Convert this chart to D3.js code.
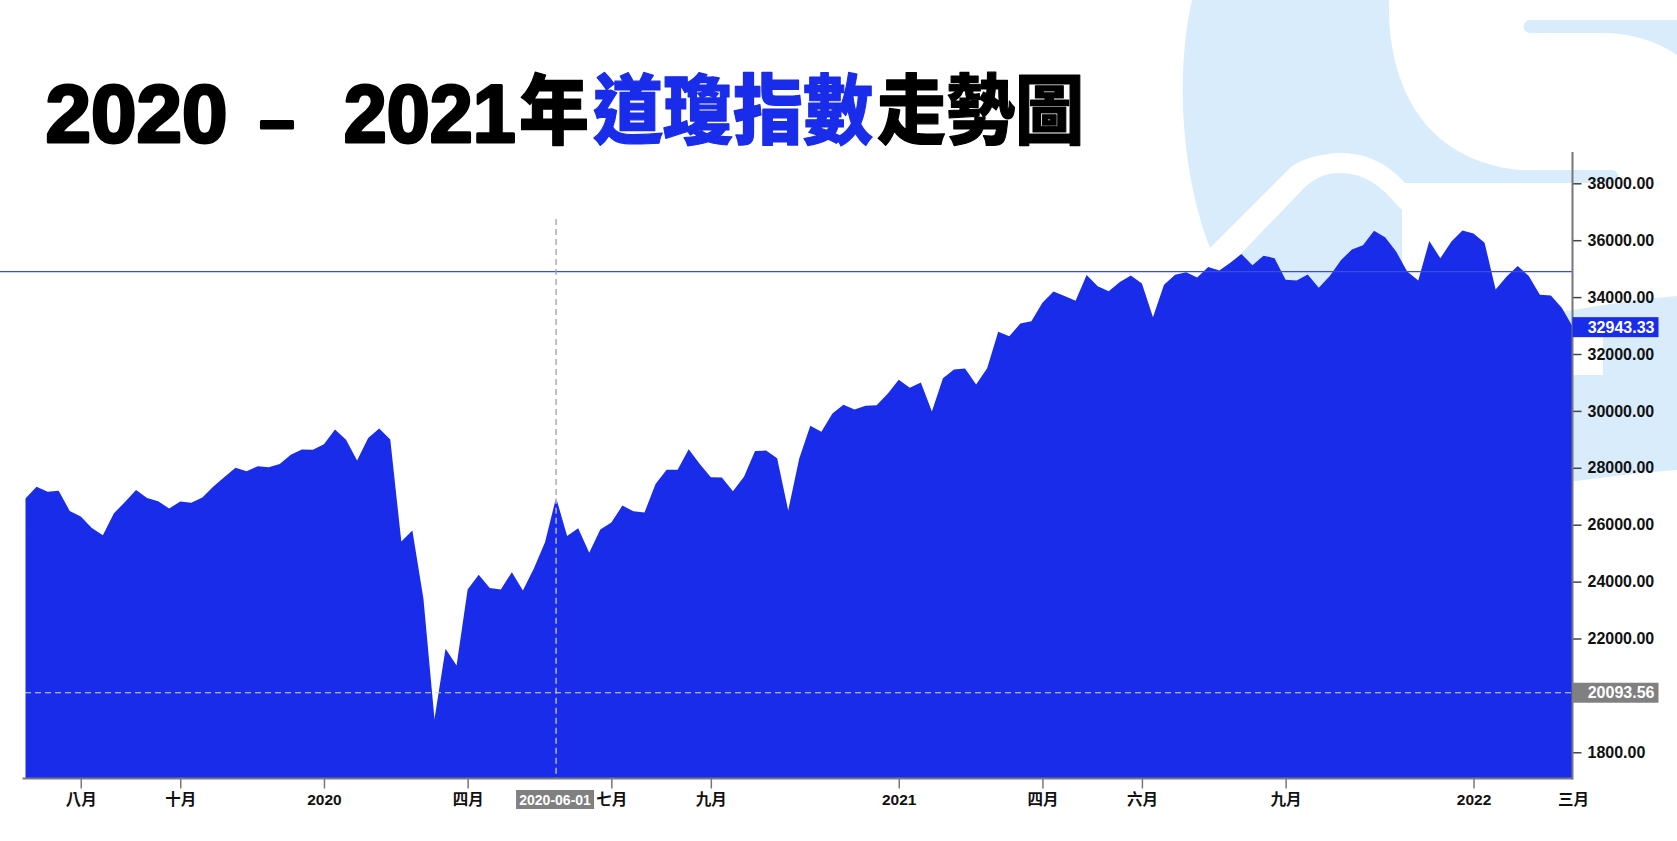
<!DOCTYPE html>
<html><head><meta charset="utf-8">
<script src="https://cdn.jsdelivr.net/npm/d3@7"></script>
<style>html,body{margin:0;padding:0;background:#fff;}svg{display:block;}</style>
</head><body>
<svg id="chart" width="1677" height="841"></svg>
<script>
// ---------- DATA ----------
const weekStarts = [
"2019-07-01","2019-07-08","2019-07-15","2019-07-22","2019-07-29","2019-08-05","2019-08-12","2019-08-19","2019-08-26",
"2019-09-02","2019-09-09","2019-09-16","2019-09-23","2019-09-30","2019-10-07","2019-10-14","2019-10-21","2019-10-28",
"2019-11-04","2019-11-11","2019-11-18","2019-11-25","2019-12-02","2019-12-09","2019-12-16","2019-12-23","2019-12-30",
"2020-01-06","2020-01-13","2020-01-20","2020-01-27","2020-02-03","2020-02-10","2020-02-17","2020-02-24",
"2020-03-02","2020-03-09","2020-03-16","2020-03-23","2020-03-30","2020-04-06","2020-04-13","2020-04-20","2020-04-27",
"2020-05-04","2020-05-11","2020-05-18","2020-05-25","2020-06-01","2020-06-08","2020-06-15","2020-06-22","2020-06-29",
"2020-07-06","2020-07-13","2020-07-20","2020-07-27","2020-08-03","2020-08-10","2020-08-17","2020-08-24","2020-08-31",
"2020-09-07","2020-09-14","2020-09-21","2020-09-28","2020-10-05","2020-10-12","2020-10-19","2020-10-26",
"2020-11-02","2020-11-09","2020-11-16","2020-11-23","2020-11-30","2020-12-07","2020-12-14","2020-12-21","2020-12-28",
"2021-01-04","2021-01-11","2021-01-18","2021-01-25","2021-02-01","2021-02-08","2021-02-15","2021-02-22",
"2021-03-01","2021-03-08","2021-03-15","2021-03-22","2021-03-29","2021-04-05","2021-04-12","2021-04-19","2021-04-26",
"2021-05-03","2021-05-10","2021-05-17","2021-05-24","2021-05-31","2021-06-07","2021-06-14","2021-06-21","2021-06-28",
"2021-07-05","2021-07-12","2021-07-19","2021-07-26","2021-08-02","2021-08-09","2021-08-16","2021-08-23","2021-08-30",
"2021-09-06","2021-09-13","2021-09-20","2021-09-27","2021-10-04","2021-10-11","2021-10-18","2021-10-25",
"2021-11-01","2021-11-08","2021-11-15","2021-11-22","2021-11-29","2021-12-06","2021-12-13","2021-12-20","2021-12-27",
"2022-01-03","2022-01-10","2022-01-17","2022-01-24","2022-01-31","2022-02-07","2022-02-14","2022-02-21","2022-02-28",
"2022-03-07"];
const closes = [
26922,27332,27154,27192,26485,26287,25886,25629,26403,
26797,27220,26935,26820,26573,26817,26770,26958,27347,
27681,28005,27876,28051,28015,28135,28455,28645,28634,
28824,29348,28990,28256,29050,29380,28992,25409,
25800,23400,19174,21637,21053,23720,24242,23775,23724,
24331,23685,24465,25383,26950,25606,25871,25016,25827,
26075,26672,26470,26428,27433,27931,27930,28654,28133,
27666,27657,27174,27683,28587,28606,28336,26502,
28323,29480,29263,29910,30218,30046,30179,30200,30606,
31098,30814,30997,29983,31148,31458,31494,30932,
31496,32779,32628,33073,33153,33801,34200,34043,33875,
34778,34382,34208,34529,34756,34480,33290,34433,34786,
34870,34687,35062,34935,35209,35515,35120,35456,35369,
34608,34584,34798,34326,34746,35295,35677,35820,
36328,36100,35602,34899,34580,35971,35365,35951,36338,
36232,35912,34265,34725,35089,34738,34079,34059,33615,
32943.33];
const xTickDates  = ["2019-08-05","2019-10-07","2020-01-06","2020-04-06","2020-07-06","2020-09-07",
                     "2021-01-04","2021-04-05","2021-06-07","2021-09-06","2022-01-03","2022-03-07"];
const xTickLabels = ["八月","十月","2020","四月","七月","九月","2021","四月","六月","九月","2022","三月"];
const yTickValues = [18000,20000,22000,24000,26000,28000,30000,32000,34000,36000,38000];
const yTickLabels = ["1800.00","20000.00","22000.00","24000.00","26000.00","28000.00","30000.00","32000.00","34000.00","36000.00","38000.00"];
const crosshairDate = "2020-06-01";
const crosshairValue = 20093.56;
const lastValue = 32943.33;
const priceLineValue = 34893;
const titleParts = ["2020","–","2021","年","道瓊指數","走勢圖"];

// ---------- STYLE / LAYOUT ----------
const BLUE = "#182ce9", LIGHT = "#d9ecfc";
const FONT = "'Liberation Sans','Noto Sans CJK TC',Arial,sans-serif";
const CJK = "'Noto Sans CJK TC','Noto Sans CJK SC',sans-serif";
const axisX = 1572.5, axisBottom = 778.5, axisTop = 152;

const parse = d3.timeParse("%Y-%m-%d");
const data = weekStarts.map((d,i)=>({date:parse(d), value:closes[i]}));

const svg = d3.select("#chart");

// ---------- BACKGROUND WATERMARK ----------
const bg = svg.append("g");
bg.append("path").attr("fill",LIGHT)
  .attr("d","M1192,0 L1389,0 C1387,80 1420,160 1520,170 L1612,170 A6.5,6.5 0 0 1 1612,183 L1405,183 C1385,160 1360,152 1339,153 C1318,154 1300,160 1291,167 L1210,248 C1180,170 1176,70 1192,0 Z");
bg.append("path").attr("fill",LIGHT)
  .attr("d","M1231,264 L1306,186 C1318,176 1328,173 1339,173 C1355,173 1370,178 1385,192 L1402,210 L1402,470 L1040,470 Z");
bg.append("path").attr("fill",LIGHT)
  .attr("d","M1530,20 L1677,20 L1677,55 C1655,40 1630,33 1600,33 L1530,33 A6.5,6.5 0 0 1 1530,20 Z");
bg.append("path").attr("fill",LIGHT)
  .attr("d","M1500,320 C1560,314 1620,300 1677,296 L1677,470 C1620,474 1560,484 1500,490 Z");
bg.append("rect").attr("fill","#fff").attr("x",1573).attr("y",337).attr("width",30).attr("height",38);

// ---------- SCALES ----------
const x = d3.scaleTime().domain([data[0].date, data[data.length-1].date]).range([25.5, 1573]);
const y = d3.scaleLinear().domain([18000, 38000]).range([752.3, 183.3]);

// ---------- AREA ----------
const area = d3.area().x(d=>x(d.date)).y0(axisBottom).y1(d=>y(d.value));
svg.append("path").datum(data).attr("fill",BLUE).attr("d",area);

// price line
svg.append("line").attr("x1",0).attr("x2",axisX)
  .attr("y1",y(priceLineValue)).attr("y2",y(priceLineValue))
  .attr("stroke","#3a4ce6").attr("stroke-width",1.2);

// crosshair
const cd = parse(crosshairDate);
const cPoint = data.find(d=>+d.date===+cd);
const cx = x(cd);
svg.append("line").attr("x1",cx).attr("x2",cx).attr("y1",219).attr("y2",y(cPoint.value))
  .attr("stroke","#9a9a9a").attr("stroke-width",1.2).attr("stroke-dasharray","6,4");
svg.append("line").attr("x1",cx).attr("x2",cx).attr("y1",y(cPoint.value)).attr("y2",axisBottom)
  .attr("stroke","#d3d6f6").attr("stroke-width",1.2).attr("stroke-dasharray","6,4");
svg.append("line").attr("x1",25).attr("x2",axisX).attr("y1",y(crosshairValue)).attr("y2",y(crosshairValue))
  .attr("stroke","#d3d6f6").attr("stroke-width",1.2).attr("stroke-dasharray","6,4");

// ---------- AXES ----------
const xAxis = d3.axisBottom(x).tickValues(xTickDates.map(parse))
  .tickFormat((d,i)=>xTickLabels[i]).tickSize(10).tickPadding(5).tickSizeOuter(0);
const gx = svg.append("g").attr("transform",`translate(0,${axisBottom})`).call(xAxis);
gx.select(".domain").attr("stroke","#7a7a7a").attr("stroke-width",2).attr("d",`M22.5,0H${axisX}`);
gx.selectAll(".tick line").attr("stroke","#777").attr("stroke-width",1.5)
  .attr("opacity",(d,i)=>i===xTickLabels.length-1?0:1);
gx.selectAll(".tick text").attr("fill","#111").style("font-family",FONT)
  .style("font-size","15.5px").style("font-weight","bold");

const yAxis = d3.axisRight(y).tickValues(yTickValues)
  .tickFormat((d,i)=>yTickLabels[i]).tickSize(9).tickPadding(6);
const gy = svg.append("g").attr("transform",`translate(${axisX},0)`).call(yAxis);
gy.select(".domain").remove();
gy.append("line").attr("x1",0).attr("x2",0).attr("y1",axisTop).attr("y2",axisBottom+1)
  .attr("stroke","#777").attr("stroke-width",2);
gy.selectAll(".tick line").attr("stroke","#444").attr("stroke-width",1.5);
gy.selectAll(".tick text").attr("fill","#111").style("font-family",FONT)
  .style("font-size","16px").style("font-weight","bold");

// value labels on y axis
function yBadge(v, fill){
  const g = svg.append("g").attr("transform",`translate(${axisX},${y(v)})`);
  g.append("rect").attr("x",0).attr("y",-10).attr("width",86).attr("height",20).attr("fill",fill);
  g.append("text").attr("x",15.2).attr("dy","0.35em").attr("fill","#fff")
    .style("font-family",FONT).style("font-size","16px").style("font-weight","bold")
    .text(d3.format(".2f")(v));
}
yBadge(lastValue, BLUE);
yBadge(crosshairValue, "#808080");

// date badge
const dg = svg.append("g").attr("transform",`translate(${cx},799.5)`);
dg.append("rect").attr("x",-40).attr("y",-9.5).attr("width",78).attr("height",19).attr("fill","#808080");
dg.append("text").attr("x",-1).attr("dy","0.36em").attr("text-anchor","middle").attr("fill","#fff")
  .style("font-family",FONT).style("font-size","14px").style("font-weight","bold")
  .text(d3.timeFormat("%Y-%m-%d")(cd));

// ---------- TITLE ----------
const tg = svg.append("g");
function tText(str, xPos, base, size, color, family, len, sw){
  const t = tg.append("text").attr("x",xPos).attr("y",base).attr("fill",color)
    .attr("stroke",color).attr("stroke-width",sw).attr("stroke-linejoin","round")
    .style("font-family",family).style("font-size",size+"px").style("font-weight","900").text(str);
  if(len){ t.attr("textLength",len).attr("lengthAdjust","spacingAndGlyphs"); }
  return t;
}
tText(titleParts[0], 45.6, 141.7, 82, "#000", FONT, 182, 3);
tText(titleParts[1], 259.6, 141.7, 64, "#000", FONT, 35, 3);
tText(titleParts[2], 343.7, 141.7, 82, "#000", FONT, 172, 3);
tText(titleParts[3], 519, 138, 76, "#000", CJK, 70, 1.2);
tText(titleParts[4], 593, 138, 76, BLUE, CJK, 280, 1.2);
tText(titleParts[5], 877, 138, 76, "#000", CJK, 207, 1.2);
</script>
</body></html>
